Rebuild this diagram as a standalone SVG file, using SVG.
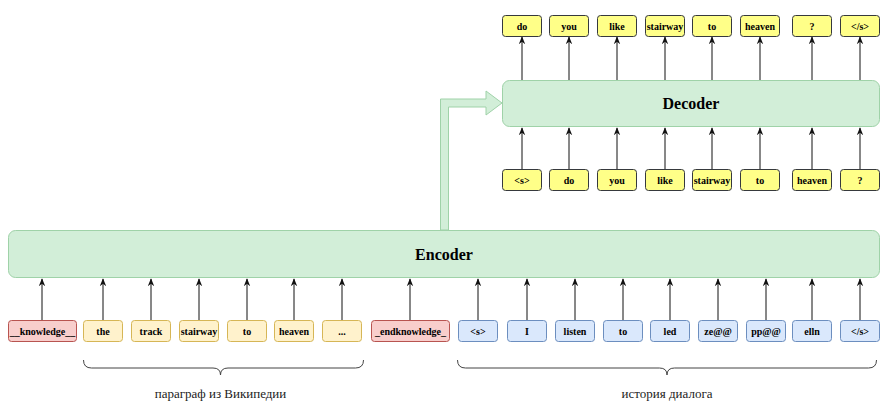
<svg xmlns="http://www.w3.org/2000/svg" width="893" height="408" viewBox="0 0 893 408">
<style>
.tk{font-family:"Liberation Serif","Times New Roman",serif;font-weight:bold;font-size:10px;text-anchor:middle;fill:#000}
.big{font-family:"Liberation Serif","Times New Roman",serif;font-weight:bold;font-size:16px;text-anchor:middle;fill:#000}
.cap{font-family:"Liberation Serif","Times New Roman",serif;font-size:13px;text-anchor:middle;fill:#222}
.note rect{fill:#ffff88;stroke:#36393d;stroke-width:1}
.yel rect{fill:#fff2cc;stroke:#d6b656;stroke-width:1}
.red rect{fill:#f8cecc;stroke:#b85450;stroke-width:1}
.blu rect{fill:#dae8fc;stroke:#6c8ebf;stroke-width:1}
.grn{fill:#d2eed8;stroke:#9fd2a8;stroke-width:1}
.ar{stroke:#111;stroke-width:1;fill:none;marker-end:url(#ah)}
.br{stroke:#444;stroke-width:1;fill:none}
</style>
<defs>
<marker id="ah" viewBox="0 0 10 10" refX="9" refY="5" markerWidth="8" markerHeight="8" markerUnits="userSpaceOnUse" orient="auto">
<path d="M0,1 L10,5 L0,9 L3,5 Z" fill="#111"/>
</marker>
</defs>

<g id="encoder"><rect class="grn" x="8.5" y="230.5" width="871" height="47" rx="7"/><text class="big" x="444" y="260">Encoder</text></g>
<g id="decoder"><rect class="grn" x="502.5" y="80.5" width="377" height="46" rx="7"/><text class="big" x="691" y="109">Decoder</text></g>

<g id="connectors">
<polygon class="grn" points="440.5,230 440.5,99 486,99 486,91 502,103 486,115 486,107 448.5,107 448.5,230"/>
<line class="ar" x1="522" y1="80" x2="522" y2="37"/>
<line class="ar" x1="569" y1="80" x2="569" y2="37"/>
<line class="ar" x1="617" y1="80" x2="617" y2="37"/>
<line class="ar" x1="665" y1="80" x2="665" y2="37"/>
<line class="ar" x1="712" y1="80" x2="712" y2="37"/>
<line class="ar" x1="760" y1="80" x2="760" y2="37"/>
<line class="ar" x1="812" y1="80" x2="812" y2="37"/>
<line class="ar" x1="860" y1="80" x2="860" y2="37"/>
<line class="ar" x1="522" y1="169" x2="522" y2="128"/>
<line class="ar" x1="569" y1="169" x2="569" y2="128"/>
<line class="ar" x1="617" y1="169" x2="617" y2="128"/>
<line class="ar" x1="665" y1="169" x2="665" y2="128"/>
<line class="ar" x1="712" y1="169" x2="712" y2="128"/>
<line class="ar" x1="760" y1="169" x2="760" y2="128"/>
<line class="ar" x1="812" y1="169" x2="812" y2="128"/>
<line class="ar" x1="860" y1="169" x2="860" y2="128"/>
<line class="ar" x1="42" y1="320" x2="42" y2="279"/>
<line class="ar" x1="103" y1="320" x2="103" y2="279"/>
<line class="ar" x1="151" y1="320" x2="151" y2="279"/>
<line class="ar" x1="199" y1="320" x2="199" y2="279"/>
<line class="ar" x1="247" y1="320" x2="247" y2="279"/>
<line class="ar" x1="294" y1="320" x2="294" y2="279"/>
<line class="ar" x1="342" y1="320" x2="342" y2="279"/>
<line class="ar" x1="410" y1="320" x2="410" y2="279"/>
<line class="ar" x1="478" y1="320" x2="478" y2="279"/>
<line class="ar" x1="527" y1="320" x2="527" y2="279"/>
<line class="ar" x1="575" y1="320" x2="575" y2="279"/>
<line class="ar" x1="623" y1="320" x2="623" y2="279"/>
<line class="ar" x1="670" y1="320" x2="670" y2="279"/>
<line class="ar" x1="718" y1="320" x2="718" y2="279"/>
<line class="ar" x1="766" y1="320" x2="766" y2="279"/>
<line class="ar" x1="812" y1="320" x2="812" y2="279"/>
<line class="ar" x1="860" y1="320" x2="860" y2="279"/>
</g>

<g id="out-do" class="note"><rect x="502.5" y="15.5" width="39" height="21" rx="3"/><text class="tk" x="522" y="29.5">do</text></g>
<g id="out-you" class="note"><rect x="549.5" y="15.5" width="39" height="21" rx="3"/><text class="tk" x="569" y="29.5">you</text></g>
<g id="out-like" class="note"><rect x="597.5" y="15.5" width="39" height="21" rx="3"/><text class="tk" x="617" y="29.5">like</text></g>
<g id="out-stairway" class="note"><rect x="645.5" y="15.5" width="39" height="21" rx="3"/><text class="tk" x="665" y="29.5">stairway</text></g>
<g id="out-to" class="note"><rect x="692.5" y="15.5" width="39" height="21" rx="3"/><text class="tk" x="712" y="29.5">to</text></g>
<g id="out-heaven" class="note"><rect x="740.5" y="15.5" width="39" height="21" rx="3"/><text class="tk" x="760" y="29.5">heaven</text></g>
<g id="out-q" class="note"><rect x="792.5" y="15.5" width="39" height="21" rx="3"/><text class="tk" x="812" y="29.5">?</text></g>
<g id="out-end" class="note"><rect x="840.5" y="15.5" width="39" height="21" rx="3"/><text class="tk" x="860" y="29.5">&lt;/s&gt;</text></g>

<g id="in-s" class="note"><rect x="502.5" y="169.5" width="39" height="21" rx="3"/><text class="tk" x="522" y="183.5">&lt;s&gt;</text></g>
<g id="in-do" class="note"><rect x="549.5" y="169.5" width="39" height="21" rx="3"/><text class="tk" x="569" y="183.5">do</text></g>
<g id="in-you" class="note"><rect x="597.5" y="169.5" width="39" height="21" rx="3"/><text class="tk" x="617" y="183.5">you</text></g>
<g id="in-like" class="note"><rect x="645.5" y="169.5" width="39" height="21" rx="3"/><text class="tk" x="665" y="183.5">like</text></g>
<g id="in-stairway" class="note"><rect x="692.5" y="169.5" width="39" height="21" rx="3"/><text class="tk" x="712" y="183.5">stairway</text></g>
<g id="in-to" class="note"><rect x="740.5" y="169.5" width="39" height="21" rx="3"/><text class="tk" x="760" y="183.5">to</text></g>
<g id="in-heaven" class="note"><rect x="792.5" y="169.5" width="39" height="21" rx="3"/><text class="tk" x="812" y="183.5">heaven</text></g>
<g id="in-q" class="note"><rect x="840.5" y="169.5" width="39" height="21" rx="3"/><text class="tk" x="860" y="183.5">?</text></g>

<g id="k-start" class="red"><rect x="8.5" y="320.5" width="68" height="21" rx="3"/><text class="tk" x="42.5" y="334.5">__knowledge__</text></g>
<g id="w-the" class="yel"><rect x="83.5" y="320.5" width="39" height="21" rx="3"/><text class="tk" x="103" y="334.5">the</text></g>
<g id="w-track" class="yel"><rect x="131.5" y="320.5" width="39" height="21" rx="3"/><text class="tk" x="151" y="334.5">track</text></g>
<g id="w-stairway" class="yel"><rect x="179.5" y="320.5" width="39" height="21" rx="3"/><text class="tk" x="199" y="334.5">stairway</text></g>
<g id="w-to" class="yel"><rect x="227.5" y="320.5" width="39" height="21" rx="3"/><text class="tk" x="247" y="334.5">to</text></g>
<g id="w-heaven" class="yel"><rect x="274.5" y="320.5" width="39" height="21" rx="3"/><text class="tk" x="294" y="334.5">heaven</text></g>
<g id="w-dots" class="yel"><rect x="322.5" y="320.5" width="39" height="21" rx="3"/><text class="tk" x="342" y="334.5">...</text></g>
<g id="k-end" class="red"><rect x="371.5" y="320.5" width="78" height="21" rx="3"/><text class="tk" x="410.5" y="334.5">_endknowledge_</text></g>
<g id="d-s" class="blu"><rect x="458.5" y="320.5" width="39" height="21" rx="3"/><text class="tk" x="478" y="334.5">&lt;s&gt;</text></g>
<g id="d-I" class="blu"><rect x="507.5" y="320.5" width="39" height="21" rx="3"/><text class="tk" x="527" y="334.5">I</text></g>
<g id="d-listen" class="blu"><rect x="555.5" y="320.5" width="39" height="21" rx="3"/><text class="tk" x="575" y="334.5">listen</text></g>
<g id="d-to" class="blu"><rect x="603.5" y="320.5" width="39" height="21" rx="3"/><text class="tk" x="623" y="334.5">to</text></g>
<g id="d-led" class="blu"><rect x="650.5" y="320.5" width="39" height="21" rx="3"/><text class="tk" x="670" y="334.5">led</text></g>
<g id="d-ze" class="blu"><rect x="698.5" y="320.5" width="39" height="21" rx="3"/><text class="tk" x="718" y="334.5">ze@@</text></g>
<g id="d-pp" class="blu"><rect x="746.5" y="320.5" width="39" height="21" rx="3"/><text class="tk" x="766" y="334.5">pp@@</text></g>
<g id="d-elln" class="blu"><rect x="792.5" y="320.5" width="39" height="21" rx="3"/><text class="tk" x="812" y="334.5">elln</text></g>
<g id="d-end" class="blu"><rect x="840.5" y="320.5" width="39" height="21" rx="3"/><text class="tk" x="860" y="334.5">&lt;/s&gt;</text></g>

<g id="brace-wiki">
<path class="br" d="M83.5,360 Q83.5,368 91.5,368 L213,368 Q220.5,368 220.5,375 Q220.5,368 228,368 L355.5,368 Q363.5,368 363.5,360"/>
<text class="cap" x="220.5" y="398">параграф из Википедии</text>
</g>
<g id="brace-dialog">
<path class="br" d="M457.5,360 Q457.5,368 465.5,368 L659.5,368 Q667,368 667,375 Q667,368 674.5,368 L868.5,368 Q876.5,368 876.5,360"/>
<text class="cap" x="667" y="398">история диалога</text>
</g>
</svg>
